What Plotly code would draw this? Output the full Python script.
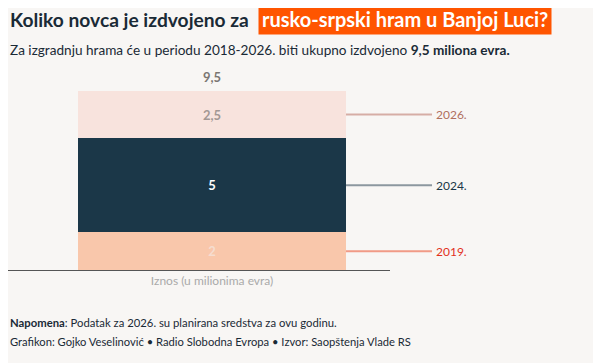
import plotly.graph_objects as go

categories = ["Iznos (u milionima evra)"]
years = ["2019.", "2024.", "2026."]
values = [2, 5, 2.5]
value_labels = ["2", "5", "2,5"]
total_label = "9,5"

bar_colors = ["#f9c7ab", "#1b3748", "#f8e3dd"]
text_colors = ["#f6ddd0", "#ffffff", "#a39894"]
line_colors = ["#f19a86", "#8c979f", "#d6ada5"]
year_colors = ["#e2301c", "#1b3748", "#b0705f"]

BG = "#f8f6f4"
FONT = "Lato"

fig = go.Figure()
for i, (yr, v) in enumerate(zip(years, values)):
    fig.add_trace(go.Bar(
        x=categories, y=[v], name=yr, width=0.7,
        marker=dict(color=bar_colors[i], line=dict(width=0)),
        text=[value_labels[i]], textposition="inside", insidetextanchor="middle",
        textfont=dict(family=FONT, size=13, color=text_colors[i], weight="bold"),
        hoverinfo="skip", showlegend=False,
    ))

total = sum(values)
fig.add_annotation(x=categories[0], y=total, text="<b>" + total_label + "</b>",
                   showarrow=False, yanchor="bottom", yshift=4,
                   font=dict(family=FONT, size=13, color="#7b7672"))

# connector lines and year labels
cum = 0
for i, v in enumerate(values):
    mid = cum + v / 2
    cum += v
    fig.add_shape(type="line", xref="paper", yref="y", x0=0.8848, x1=1.11,
                  y0=mid, y1=mid, line=dict(color=line_colors[i], width=2))
    fig.add_annotation(xref="paper", yref="y", x=1.115, y=mid, text=years[i],
                       showarrow=False, xanchor="left", yanchor="middle",
                       font=dict(family=FONT, size=12, color=year_colors[i]))

def py(ypix):
    # page y pixel -> paper coords (plot area spans page y 70..270)
    return (270 - ypix) / 200.0

def px(xpix):
    # page x pixel -> paper coords (plot area spans page x 8..390)
    return (xpix - 8) / 382.0

# titles
fig.add_annotation(xref="paper", yref="paper", x=px(8), y=py(19), xanchor="left", yanchor="middle",
                   text="<b>Koliko novca je izdvojeno za</b>", showarrow=False,
                   font=dict(family=FONT, size=19.2, color="#1a2a36"))
fig.add_annotation(xref="paper", yref="paper", x=px(258), y=py(19), xanchor="left", yanchor="middle",
                   text="<b>rusko-srpski hram u Banjoj Luci?</b>", showarrow=False,
                   bgcolor="#ff5500", borderpad=3,
                   font=dict(family=FONT, size=20, color="#ffffff"))
fig.add_annotation(xref="paper", yref="paper", x=px(8), y=py(50), xanchor="left", yanchor="middle",
                   text="Za izgradnju hrama će u periodu 2018-2026. biti ukupno izdvojeno <b>9,5 miliona evra.</b>",
                   showarrow=False, font=dict(family=FONT, size=13.6, color="#1a2a36"))
fig.add_annotation(xref="paper", yref="paper", x=px(8), y=py(322), xanchor="left", yanchor="middle",
                   text="<b>Napomena</b>: Podatak za 2026. su planirana sredstva za ovu godinu.",
                   showarrow=False, font=dict(family=FONT, size=11.3, color="#1a2a36"))
fig.add_annotation(xref="paper", yref="paper", x=px(8), y=py(341), xanchor="left", yanchor="middle",
                   text="Grafikon: Gojko Veselinović • Radio Slobodna Evropa • Izvor: Saopštenja Vlade RS",
                   showarrow=False, font=dict(family=FONT, size=11.2, color="#1a2a36"))

fig.update_layout(
    width=593, height=355,
    margin=dict(l=0, r=211, t=62, b=93),
    paper_bgcolor=BG, plot_bgcolor=BG,
    barmode="stack", bargap=0,
    font=dict(family=FONT),
    xaxis=dict(range=[-0.533, 0.465], showgrid=False, showline=True, linecolor="#555555",
               linewidth=1, ticks="", tickfont=dict(family=FONT, size=12, color="#aaaaaa")),
    yaxis=dict(range=[0, 10.615], showgrid=False, showticklabels=False, zeroline=False),
)

fig.write_html("out.html")
